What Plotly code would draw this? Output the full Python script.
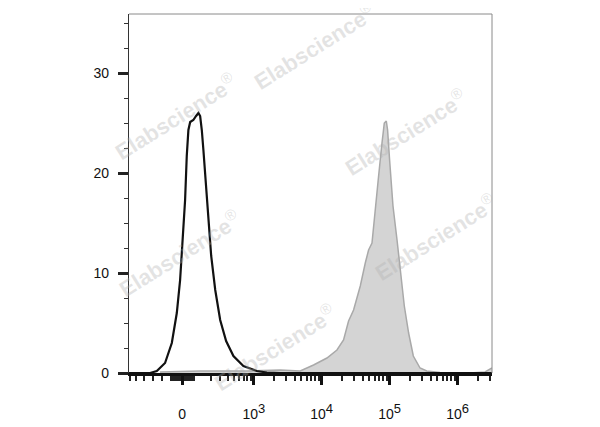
import numpy as np
import plotly.graph_objects as go

# ---------------- data ----------------
COFACTOR = 177.0  # arcsinh display cofactor of the biexponential-like axis

# black open histogram (control)
ctrl_x = [-520, -232, -171, -108, -63, -32, -12, 4, 18, 28, 38, 49, 69, 87, 103, 115,
          127, 139, 158, 180, 204, 243, 297, 373, 488, 695, 1104, 1558, 2451, 4830, 3.2e6]
ctrl_y = [0, 0, 0.2, 1.0, 3.0, 6.0, 9.3, 13.3, 17.3, 21.7, 24.3, 25.1, 25.3, 25.7, 26.0, 25.7,
          24.3, 22.3, 19.0, 15.0, 11.7, 8.3, 5.3, 3.2, 1.7, 0.7, 0.2, 0.05, 0, 0, 0]

# grey filled histogram (stained)
stain_x = [-145, 115, 878, 2451, 4830, 7585, 11944, 16765, 20972, 24853, 29450, 36956, 43770,
           48960, 54970, 61450, 68730, 77100, 83370, 89200, 93230, 99760, 111900, 128300,
           143500, 164200, 190000, 222800, 279700, 350800, 550800, 1.52e6, 2.53e6, 3.0e6, 3.2e6]
stain_y = [0.1, 0.2, 0.2, 0.3, 0.2, 0.8, 1.5, 2.3, 3.3, 5.2, 6.3, 8.7, 11.0,
           12.3, 13.0, 16.0, 19.7, 23.0, 25.0, 25.2, 24.3, 21.3, 16.7, 13.3,
           10.0, 6.7, 4.0, 1.7, 0.5, 0.2, 0.05, 0.0, 0.1, 0.4, 0.5]

# axis ticks (raw fluorescence values)
major_x_vals = [0, 1e3, 1e4, 1e5, 1e6]
major_x_exp = [None, 3, 4, 5, 6]
y_major = [0, 10, 20, 30]
y_minor = [2.5, 5, 7.5, 12.5, 15, 17.5, 22.5, 25, 27.5, 32.5, 35]

X_MIN, X_MAX = -520, 3.2e6
Y_MAX = 35.9


def tr(v):
    return np.arcsinh(np.asarray(v, dtype=float) / COFACTOR)


major_x_text = ["0" if e is None else
                "10<sup><span style='font-size:13px'>%d</span></sup>" % e
                for e in major_x_exp]

# minor x ticks: negative region, dense cluster near zero, 100..900 and log decades
minor_raw = [-500, -400, -300, -200, -130]
minor_raw += [k for k in range(-70, 71, 10) if k != 0]
minor_raw += [k * 100 for k in range(2, 10)]
for d in (3, 4, 5, 6):
    for k in range(2, 10):
        val = k * 10 ** d
        if val < X_MAX:
            minor_raw.append(val)

fig = go.Figure()

fig.add_trace(go.Scatter(
    x=tr(stain_x), y=stain_y, mode="lines",
    line=dict(color="#a9a9a9", width=1.5),
    fill="tozeroy", fillcolor="#d4d4d4",
    hoverinfo="skip", showlegend=False,
))
fig.add_trace(go.Scatter(
    x=tr(ctrl_x), y=ctrl_y, mode="lines",
    line=dict(color="#111111", width=2.2),
    hoverinfo="skip", showlegend=False,
))

# watermarks (centres, in screen pixels of the reference)
wm = [(176, 116), (314, 46), (405, 132), (180, 253), (435, 237), (275, 347)]
L, R, T, B = 129.3, 491.7, 14.0, 373.3
for px, py in wm:
    fig.add_annotation(
        x=(px - L) / (R - L), y=(B - py) / (B - T), xref="paper", yref="paper",
        xanchor="center", yanchor="middle",
        text="<b>Elabscience</b><sup>®</sup>", showarrow=False, textangle=-32,
        font=dict(family="Liberation Sans, Arial", size=22, color="rgba(175,175,175,0.34)"),
    )

# frame (top / right)
fig.add_shape(type="line", xref="paper", yref="paper", x0=0, x1=1, y0=1, y1=1,
              line=dict(color="#8a8a8a", width=1))
fig.add_shape(type="line", xref="paper", yref="paper", x0=1, x1=1, y0=0, y1=1,
              line=dict(color="#8a8a8a", width=1))

# the page adds an 8 px body margin, so the margins are reduced by 8 px
fig.update_layout(
    width=600, height=427,
    margin=dict(l=121, r=116, t=6, b=62),
    paper_bgcolor="white", plot_bgcolor="white",
    font=dict(family="Liberation Sans, Arial", size=14, color="#111111"),
    xaxis=dict(
        range=[float(tr(X_MIN)), float(tr(X_MAX))],
        automargin=False,
        tickmode="array", tickvals=list(tr(major_x_vals)), ticktext=major_x_text,
        ticks="outside", ticklen=9, tickwidth=2.5, tickcolor="#111111",
        ticklabelstandoff=17,
        showline=True, linecolor="#111111", linewidth=2.5,
        showgrid=False, zeroline=False,
        minor=dict(tickmode="array", tickvals=list(tr(minor_raw)), ticks="outside",
                   ticklen=5, tickwidth=1.5, tickcolor="#222222", showgrid=False),
        tickfont=dict(size=14),
    ),
    yaxis=dict(
        range=[0, Y_MAX],
        automargin=False,
        tickmode="array", tickvals=y_major, ticktext=[str(v) for v in y_major],
        ticks="outside", ticklen=10, tickwidth=2.7, tickcolor="#222222",
        ticklabelstandoff=6,
        showline=True, linecolor="#333333", linewidth=1.2,
        showgrid=False, zeroline=False,
        minor=dict(tickmode="array", tickvals=y_minor, ticks="outside",
                   ticklen=4, tickwidth=1.3, tickcolor="#333333", showgrid=False),
        tickfont=dict(size=14),
    ),
)

fig.write_html("out.html")
